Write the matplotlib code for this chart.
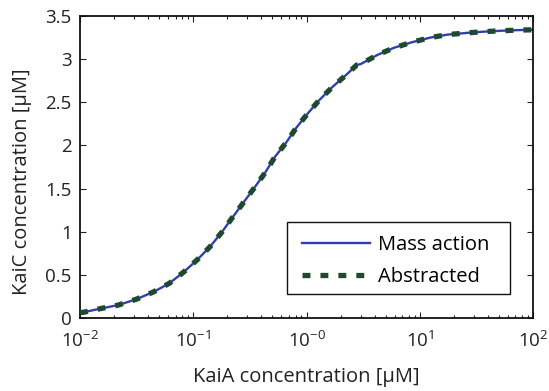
import numpy as np
import matplotlib
matplotlib.use("Agg")
import matplotlib.pyplot as plt
from matplotlib.patches import Rectangle
from matplotlib.ticker import LogLocator, NullFormatter

plt.rcParams['font.family'] = ['Open Sans', 'DejaVu Sans']
plt.rcParams['mathtext.fontset'] = 'custom'
plt.rcParams['mathtext.rm'] = 'Open Sans'
plt.rcParams['mathtext.it'] = 'Open Sans'

# KaiA concentration (log10 of uM) and resulting KaiC concentration (uM)
log_kaia = [-2.0, -1.971, -1.808, -1.662, -1.506, -1.353, -1.211, -1.084, -0.961,
            -0.852, -0.749, -0.660, -0.558, -0.464, -0.366, -0.278, -0.181,
            -0.087, 0.007, 0.113, 0.231, 0.349, 0.443, 0.479, 0.625, 0.773,
            0.929, 1.091, 1.243, 1.406, 1.561, 1.718, 1.885, 2.0]
kaic_mass_action = [0.063, 0.066, 0.112, 0.150, 0.216, 0.301, 0.402, 0.533, 0.680,
                    0.826, 0.992, 1.154, 1.336, 1.503, 1.683, 1.869, 2.031,
                    2.210, 2.364, 2.526, 2.680, 2.816, 2.932, 2.943, 3.048, 3.132,
                    3.195, 3.249, 3.284, 3.303, 3.318, 3.329, 3.337, 3.340]
kaic_abstracted = kaic_mass_action

xtick_vals = [1e-2, 1e-1, 1e0, 1e1, 1e2]
xtick_labels = [r'$10^{-2}$', r'$10^{-1}$', r'$10^{-0}$', r'$10^{1}$', r'$10^{2}$']
ytick_vals = [0, 0.5, 1, 1.5, 2, 2.5, 3, 3.5]
ytick_labels = ['0', '0.5', '1', '1.5', '2', '2.5', '3', '3.5']

kaia = 10 ** np.array(log_kaia)

fig = plt.figure(figsize=(5.49, 3.91), dpi=100)
ax = fig.add_axes([80 / 549, 1 - 318 / 391, 453 / 549, 302 / 391])

ax.plot(kaia, kaic_mass_action, color='#2f3fb0', lw=1.7, label='Mass action', zorder=2)
ax.plot(kaia, kaic_abstracted, color='#1d4a2e', lw=3.8, linestyle=(0, (1.5, 1.9)),
        dash_capstyle='butt', label='Abstracted', zorder=3)

ax.set_xscale('log')
ax.set_xlim(1e-2, 1e2)
ax.set_ylim(0, 3.5)
ax.set_xticks(xtick_vals)
ax.set_xticklabels(xtick_labels)
ax.xaxis.set_minor_locator(LogLocator(base=10, subs=np.arange(2, 10)))
ax.xaxis.set_minor_formatter(NullFormatter())
ax.set_yticks(ytick_vals)
ax.set_yticklabels(ytick_labels)

ax.tick_params(which='both', direction='in', top=True, right=True, labelsize=13.5,
               width=0.8, colors='#222222')
ax.tick_params(which='major', length=4)
ax.tick_params(axis='y', which='major', pad=6)
ax.tick_params(axis='x', which='major', pad=9.5)
ax.tick_params(which='minor', length=2)
for s in ax.spines.values():
    s.set_linewidth(1.3)
    s.set_color('#111111')

ax.set_xlabel('KaiA concentration [μM]', fontsize=14.5, color='#222222', labelpad=11)
ax.set_ylabel('KaiC concentration [μM]', fontsize=14.5, color='#222222')
ax.yaxis.set_label_coords(-0.105, 0.45)

# legend box with wider side margins than the stock frame gives
ax.add_patch(Rectangle((0.457, 0.0795), 0.492, 0.2385, transform=ax.transAxes,
                       facecolor='white', edgecolor='#111111', lw=1.0, zorder=4))
leg = ax.legend(loc='center', bbox_to_anchor=(0.697, 0.188), borderaxespad=0,
                fontsize=14.5, handlelength=3.4, handletextpad=0.4, frameon=False,
                borderpad=0.0, labelspacing=0.6)
leg.set_zorder(5)

fig.savefig('out.png', dpi=100)
